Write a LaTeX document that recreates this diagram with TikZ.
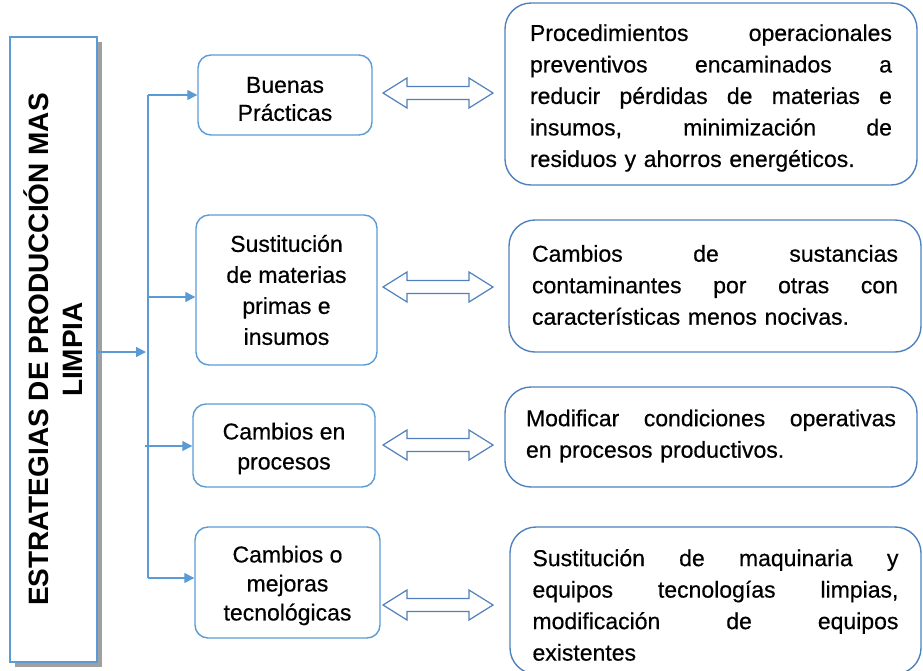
\documentclass[tikz,border=0pt]{standalone}
\usepackage{fontspec}
\setmainfont{Liberation Sans}
\newfontfamily\heavyfont{Liberation Sans}[FakeBold=0.5]
\usetikzlibrary{arrows.meta,calc,shadows}
\definecolor{lblue}{RGB}{91,155,213}
\definecolor{dblue}{RGB}{79,129,189}
\definecolor{shgray}{RGB}{160,160,160}
\tikzset{
  midbox/.style={draw=lblue, line width=1.4pt, rounded corners=13pt, inner sep=0pt},
  midtext/.style={align=center, font=\heavyfont\fontsize{23}{30}\selectfont, inner sep=0pt},
  rbox/.style={draw=dblue, line width=1.4pt, rounded corners=26pt, inner sep=0pt},
  rtext/.style={inner sep=0pt, font=\heavyfont\fontsize{23}{31.5}\selectfont, align=left},
  conn/.style={draw=lblue, line width=1.3pt},
  tipend/.style={-{Triangle[length=10pt,width=10pt]}},
  hollow/.style={draw=dblue, line width=1.2pt, fill=white, line join=miter},
}
\newcommand{\jl}[1]{\ifvmode\noindent\fi\hbox to \hsize{\spaceskip=0.278em plus 1fil\relax #1}}
\newcommand{\dblarrow}[1]{%
  \draw[hollow] (383,#1) -- ++(24,-15) -- ++(0,8.5) -- ++(62,0) -- ++(0,-8.5)
    -- ++(24,15) -- ++(-24,15) -- ++(0,-8.5) -- ++(-62,0) -- ++(0,8.5) -- cycle;}
\begin{document}
\begin{tikzpicture}[x=1pt,y=-1pt]
\useasboundingbox (0,0) rectangle (923,670);

% left title box
\node[draw=lblue, line width=1.4pt, fill=white, minimum width=87pt, minimum height=625pt,
  inner sep=0pt, drop shadow={shadow xshift=5pt, shadow yshift=-5pt, opacity=1, fill=shgray}]
  (L) at (53.5,349.5) {};
\node[rotate=90, font=\bfseries\fontsize{28}{34}\selectfont, align=center, inner sep=0pt]
  (T) at (L.center) {ESTRATEGIAS DE PRODUCCIÓN MAS\\LIMPIA};

% middle boxes
\node[midbox, minimum width=174pt, minimum height=80pt] (m1) at (285,95) {};
\node[midtext, font=\heavyfont\fontsize{23}{28}\selectfont] (m1t) at ($(m1.center)+(0,4)$) {Buenas\\Prácticas};
\node[midbox, minimum width=181pt, minimum height=150pt] (m2) at (286.5,290) {};
\node[midtext, font=\heavyfont\fontsize{23}{31}\selectfont] (m2t) at (m2.center) {Sustitución\\de materias\\primas e\\insumos};
\node[midbox, minimum width=182pt, minimum height=83pt] (m3) at (284,445.5) {};
\node[midtext] (m3t) at ($(m3.center)+(0,3)$) {Cambios en\\procesos};
\node[midbox, minimum width=185pt, minimum height=111pt] (m4) at (287.5,582.5) {};
\node[midtext, font=\heavyfont\fontsize{23}{29}\selectfont] (m4t) at ($(m4.center)+(0,3)$) {Cambios o\\mejoras\\tecnológicas};

% trunk and branches
\coordinate (tTop) at (148,95);
\coordinate (tB2) at (148,297);
\coordinate (tMid) at (148,352);
\coordinate (tB3) at (148,446);
\coordinate (tBot) at (148,578);
\draw[conn] (tTop) -- (tBot);
\draw[conn,tipend,shorten >=2pt] (L.east |- tMid) -- (tMid);
\draw[conn,tipend] (tTop) -- (m1.west |- tTop);
\draw[conn,tipend] (tB2) -- (m2.west |- tB2);
\draw[conn,tipend] ([xshift=-3pt]tB3) -- (m3.west |- tB3);
\draw[conn,tipend] (tBot) -- (m4.west |- tBot);

% double arrows
\dblarrow{93}
\dblarrow{287}
\dblarrow{445}
\dblarrow{605}

% right boxes
\node[rbox, minimum width=412pt, minimum height=182pt] (r1) at (711,94) {};
\node[rtext, text width=362pt] (r1t) at ($(r1.center)+(0,4)$)
  {\jl{Procedimientos operacionales}\\\jl{preventivos encaminados a}\\\jl{reducir pérdidas de materias e}\\\jl{insumos, minimización de}\\residuos y ahorros energéticos.};
\node[rbox, minimum width=412pt, minimum height=132pt] (r2) at (715,286) {};
\node[rtext, text width=366pt] (r2t) at ($(r2.center)+(0,-1)$)
  {\jl{Cambios de sustancias}\\\jl{contaminantes por otras con}\\características menos nocivas.};
\node[rbox, minimum width=412pt, minimum height=100pt] (r3) at (711,437) {};
\node[rtext, text width=370pt] (r3t) at ($(r3.center)+(0,-1)$)
  {\jl{Modificar condiciones operativas}\\en procesos productivos.};
\node[rbox, minimum width=411pt, minimum height=147pt] (r4) at (715.5,600.5) {};
\node[rtext, text width=366pt] (r4t) at ($(r4.center)+(0,4.5)$)
  {\jl{Sustitución de maquinaria y}\\\jl{equipos tecnologías limpias,}\\\jl{modificación de equipos}\\existentes};
\end{tikzpicture}
\end{document}
